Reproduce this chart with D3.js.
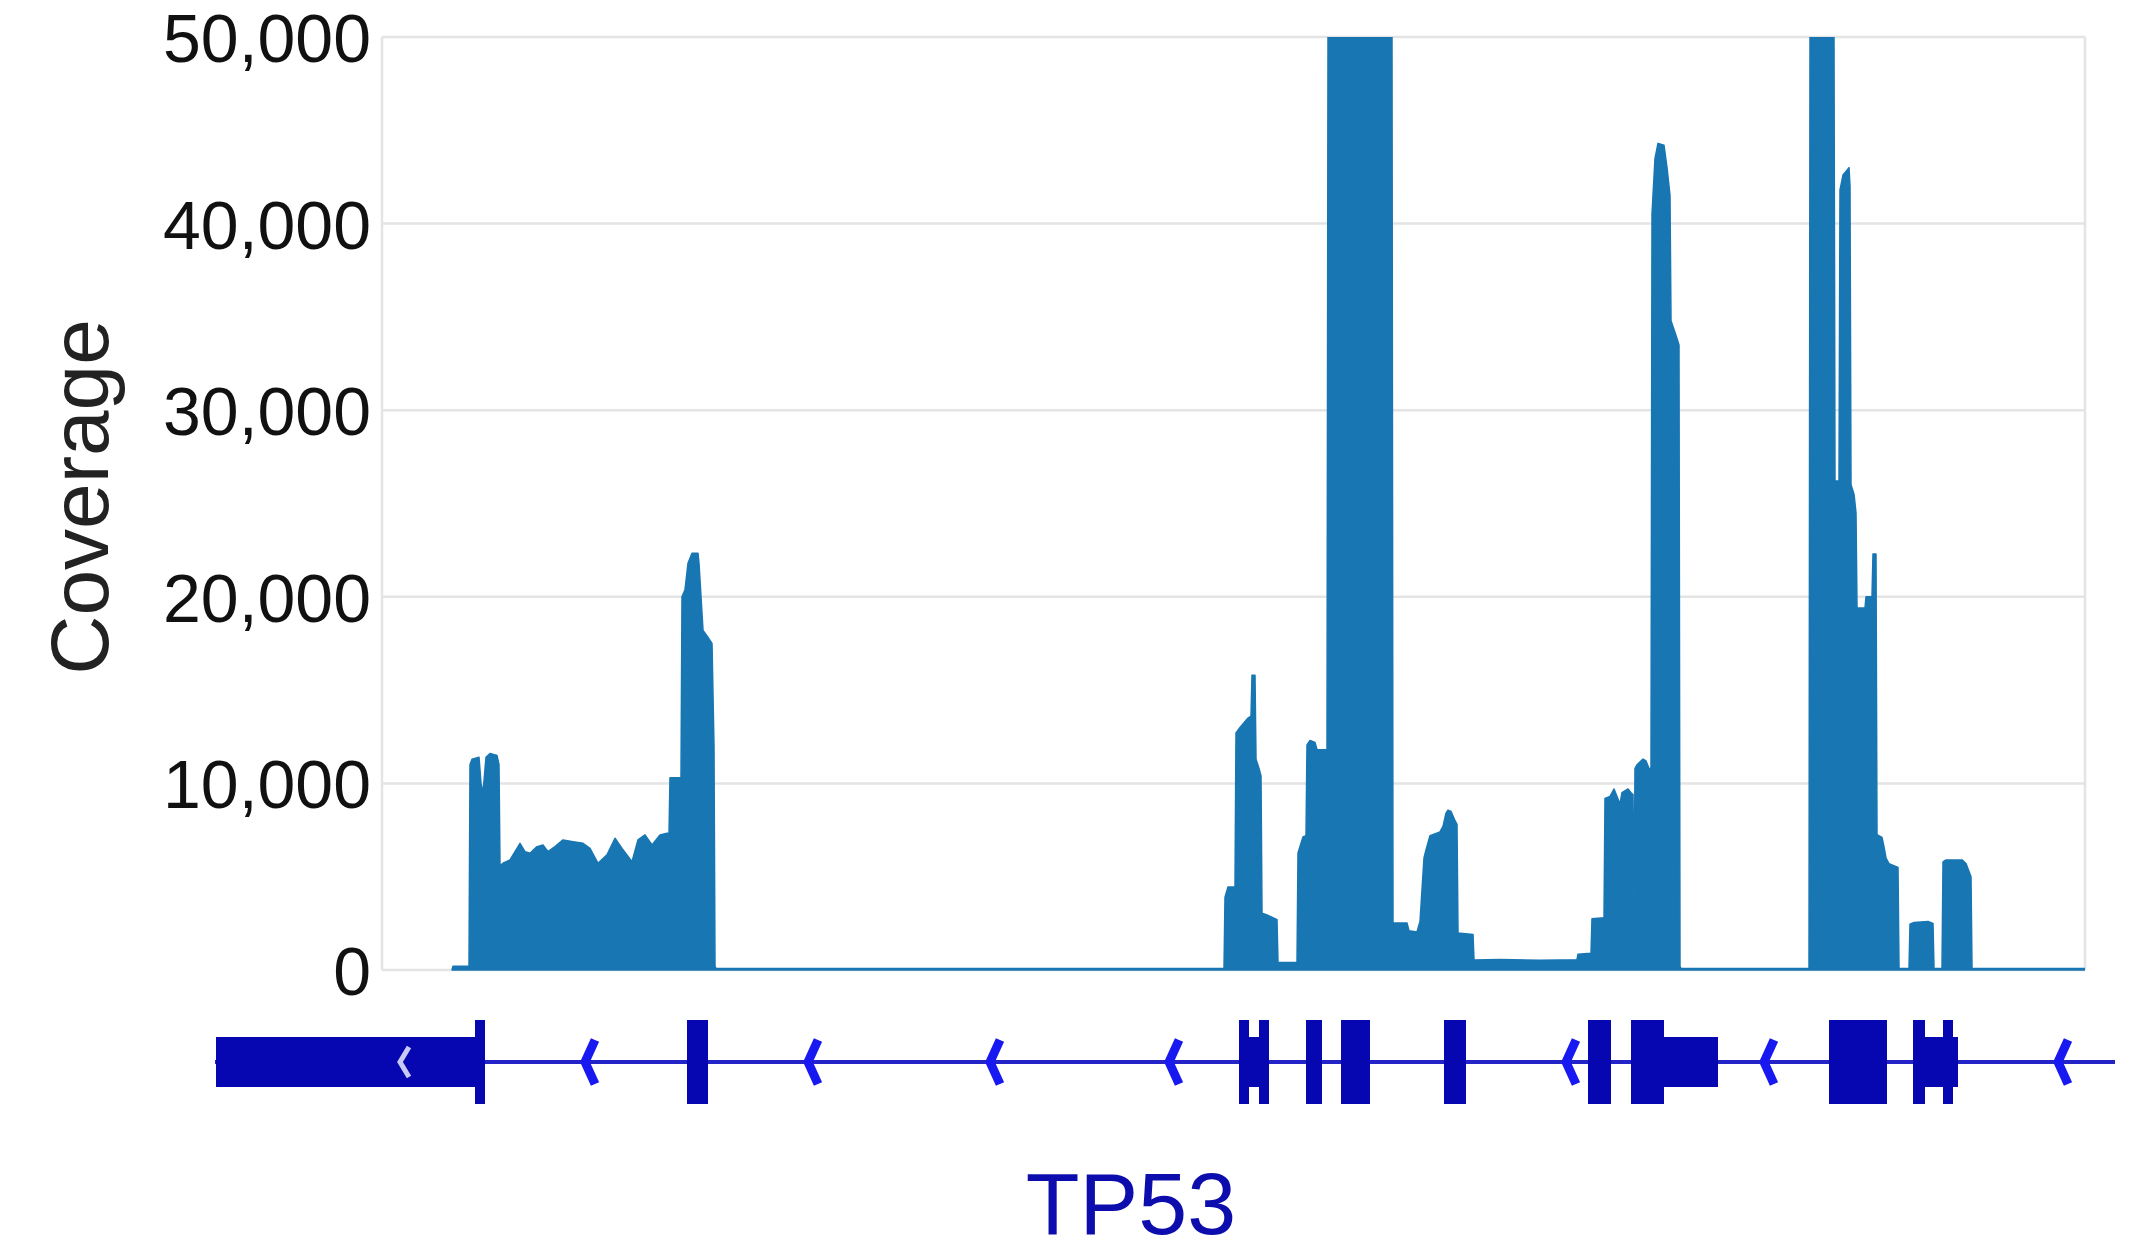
<!DOCTYPE html>
<html><head><meta charset="utf-8">
<script src="https://cdn.jsdelivr.net/npm/d3@7"></script>
<style>html,body{margin:0;padding:0;background:#fff;} svg{display:block;}</style>
</head><body>
<svg id="chart" width="2137" height="1253"></svg>
<script>
// ---- data: coverage profile (position in bp from window start, coverage) ----
const covPos = [700,710,870,880,900,970,990,1010,1040,1080,1150,1170,1180,1210,1280,1350,1380,1430,1480,1550,1610,1660,1730,1810,1910,2010,2080,2160,2250,2330,2400,2500,2560,2630,2700,2780,2850,2870,2880,2990,3000,3030,3060,3100,3160,3170,3210,3250,3300,3320,3330,3340,
 8420,8430,8460,8530,8540,8580,8660,8690,8700,8730,8740,8770,8790,8800,8850,8950,8960,9150,9160,9210,9240,9250,9280,9330,9350,9450,9460,10100,10110,10250,10270,10350,10380,10420,10440,10480,10580,10610,10640,10660,10690,10730,10750,10760,10910,10920,11180,11580,11950,11960,12090,12100,12220,12230,12280,12320,12350,12380,12400,12460,12490,12510,12520,12530,12550,12610,12640,12670,12690,12700,12730,12760,12820,12850,12880,12890,12940,12970,12980,12990,
 14270,14280,14520,14530,14570,14580,14610,14640,14670,14680,14690,14720,14740,14750,14830,14840,14900,14910,14940,14950,15000,15020,15040,15070,15160,15170,15270,15280,15320,15460,15510,15520,15600,15610,15640,15800,15840,15890,15900,17030];
const covVal = [0,200,200,11000,11300,11400,10000,9500,11400,11600,11500,11000,5600,5720,5900,6520,6790,6340,6260,6610,6700,6340,6610,6970,6880,6790,6520,5720,6170,7060,6520,5810,6970,7240,6700,7240,7330,7300,10300,10300,20000,20370,21800,22330,22330,21800,18200,17900,17500,12000,200,80,
 80,3900,4450,4450,12700,13000,13500,13600,15800,15800,11300,10800,10400,3050,2950,2700,400,400,6270,7130,7200,12060,12300,12200,11800,11800,55000,55000,2520,2520,2100,2040,2600,6000,6430,7200,7400,7700,8400,8570,8500,8000,7800,1980,1900,540,560,520,550,850,900,2750,2800,9200,9300,9700,9300,8900,9500,9700,9500,9400,3400,10800,11000,11300,11200,10800,10800,40500,43500,44300,44200,43000,41500,34800,34000,33500,200,80,
 80,55000,55000,26200,26200,41800,42600,42800,43000,42000,26000,25500,24500,19400,19400,20000,20000,22300,22300,7250,7100,6600,6000,5700,5500,80,80,2450,2550,2600,2500,80,80,5800,5900,5900,5700,5000,80,80];
const yTicks = [0, 10000, 20000, 30000, 40000, 50000];
const xDomain = [0, 17030];
const yDomain = [0, 50000];

// ---- gene model (TP53, minus strand) ----
const geneSpan = [-1670, 17330];
const exonStart = [-1660, 930, 3050, 8570, 8670, 8770, 9240, 9590, 10620, 12060, 12490, 12820, 14470, 15310, 15430, 15610, 15710];
const exonEnd   = [950, 1030, 3260, 8670, 8770, 8870, 9400, 9880, 10840, 12290, 12820, 13360, 15050, 15430, 15610, 15710, 15760];
const exonKind  = ["utr","cds","cds","cds","utr","cds","cds","cds","cds","cds","cds","utr","cds","cds","utr","cds","utr"];
const strandArrowPos = [2070, 4300, 6120, 7910, 11880, 13860, 16800];
const innerArrowPos = [220];
const geneName = "TP53";
const yTitle = "Coverage";

// ---- layout ----
const W = 2137, H = 1253;
const plot = {left: 382, right: 2085, top: 37, bottom: 970};
const geneY = 1062;
const font = "'Liberation Sans', Arial, Helvetica, sans-serif";

const svg = d3.select("#chart");
svg.append("rect").attr("width", W).attr("height", H).attr("fill", "#fff");

const x = d3.scaleLinear().domain(xDomain).range([plot.left, plot.right]);
const y = d3.scaleLinear().domain(yDomain).range([plot.bottom, plot.top]).clamp(true);

// gridlines
svg.append("g").selectAll("line").data(yTicks).join("line")
  .attr("x1", plot.left).attr("x2", plot.right)
  .attr("y1", d => y(d)).attr("y2", d => y(d))
  .attr("stroke", "#e4e4e4").attr("stroke-width", 2.5);
// side borders
svg.append("g").selectAll("line").data([plot.left, plot.right]).join("line")
  .attr("x1", d => d).attr("x2", d => d)
  .attr("y1", plot.top).attr("y2", plot.bottom)
  .attr("stroke", "#e4e4e4").attr("stroke-width", 2.5);

// y axis labels
const yAxis = d3.axisLeft(y).tickValues(yTicks).tickSize(0).tickPadding(11)
  .tickFormat(d3.format(","));
const ga = svg.append("g").attr("transform", `translate(${plot.left},0)`).call(yAxis);
ga.select(".domain").remove();
ga.selectAll("text").attr("font-family", font).attr("font-size", 68).attr("fill", "#111")
  .attr("dy", "0.36em");

// y title
svg.append("text").attr("transform", `translate(108,497) rotate(-90)`)
  .attr("text-anchor", "middle").attr("font-family", font).attr("font-size", 82)
  .attr("fill", "#222").text(yTitle);

// coverage area
svg.append("clipPath").attr("id", "clip").append("rect")
  .attr("x", plot.left).attr("y", plot.top).attr("width", plot.right - plot.left).attr("height", plot.bottom - plot.top + 2);
const cov = covPos.map((p, i) => ({pos: p, val: covVal[i]}));
const area = d3.area().x(d => x(d.pos)).y0(y(0)).y1(d => y(d.val));
svg.append("path").datum(cov).attr("clip-path", "url(#clip)")
  .attr("d", area).attr("fill", "#1876b3").attr("stroke", "#1876b3").attr("stroke-width", 1.5)
  .attr("stroke-linejoin", "round");

// gene model
const g = svg.append("g");
g.append("line").attr("x1", x(geneSpan[0])).attr("x2", x(geneSpan[1]))
  .attr("y1", geneY).attr("y2", geneY).attr("stroke", "#2323c8").attr("stroke-width", 4);
const exons = exonStart.map((s, i) => ({s, e: exonEnd[i], k: exonKind[i]}));
g.selectAll("rect.exon").data(exons).join("rect").attr("class", "exon")
  .attr("x", d => x(d.s)).attr("width", d => x(d.e) - x(d.s))
  .attr("y", d => geneY - (d.k === "cds" ? 42 : 25))
  .attr("height", d => d.k === "cds" ? 84 : 50)
  .attr("fill", "#0707b2");
g.selectAll("path.arrow").data(strandArrowPos).join("path").attr("class", "arrow")
  .attr("d", d => { const cx = x(d); return `M${cx + 6},${geneY - 22} L${cx - 4},${geneY} L${cx + 6},${geneY + 22}`; })
  .attr("fill", "none").attr("stroke", "#1818f0").attr("stroke-width", 9).attr("stroke-linejoin", "round");
g.selectAll("path.inner").data(innerArrowPos).join("path").attr("class", "inner")
  .attr("d", d => { const cx = x(d); return `M${cx + 5},${geneY - 15} L${cx - 4},${geneY} L${cx + 5},${geneY + 15}`; })
  .attr("fill", "none").attr("stroke", "#c9c9f5").attr("stroke-width", 5);

// gene name
svg.append("text").attr("x", 1131).attr("y", 1234).attr("text-anchor", "middle")
  .attr("font-family", font).attr("font-size", 88).attr("fill", "#0d0dad").text(geneName);
</script>
</body></html>
